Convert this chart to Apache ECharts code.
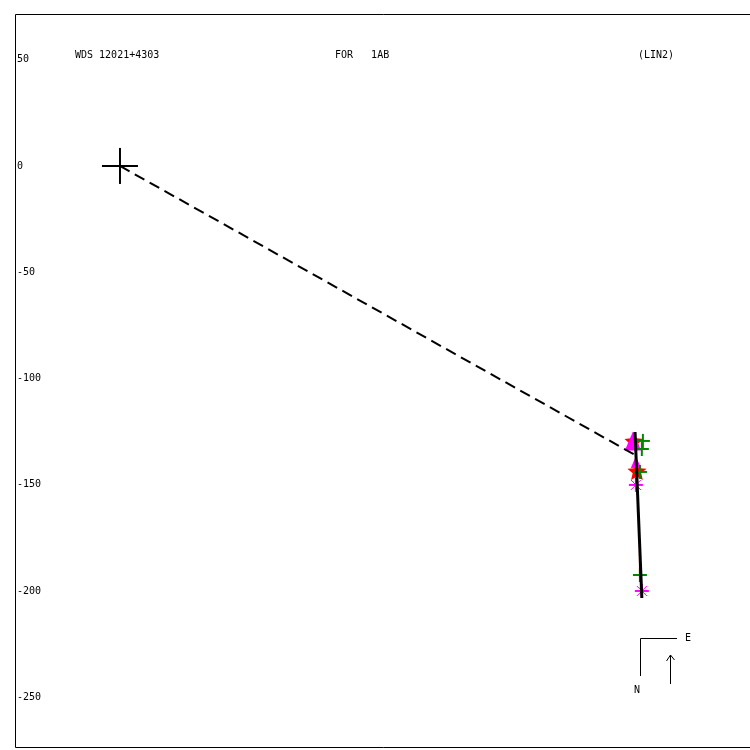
<!DOCTYPE html>
<html><head><meta charset="utf-8">
<script src="https://cdn.jsdelivr.net/npm/echarts@6/dist/echarts.min.js"></script>
<style>html,body{margin:0;padding:0;background:#fff}#c{width:750px;height:750px}</style>
</head><body><div id="c"></div>
<script>
const tickValues = [50, 0, -50, -100, -150, -200, -250];
const primary = [[0, 0]];
const dashedLine = [[0, 0], [243.3, -136.5]];
const orbitArc = [[242.4, -125.2], [245.6, -203.3]];
const residualLine = [[244.7, -176.0], [244.7, -193.9]];
const stars = [[241.9, -129.9], [243.3, -144.0]];
const triangles = [[241.4, -129.4, 19], [242.8, -139.3, 12]];
const pluses = [[246.1, -129.4], [245.6, -133.2], [244.7, -144.0], [244.7, -192.5]];
const asterisks = [[242.8, -150.1], [245.6, -200.0]];
const titleLeft = 'WDS 12021+4303';
const titleMid = 'FOR   1AB';
const titleRight = '(LIN2)';

const FONT = '10px "DejaVu Sans Mono"';
const chart = echarts.init(document.getElementById('c'), null, {renderer: 'canvas'});

function line(x1, y1, x2, y2, color, w) {
  return {type: 'line', shape: {x1, y1, x2, y2}, style: {stroke: color, lineWidth: w}};
}

const option = {
  animation: false,
  backgroundColor: '#fff',
  grid: {left: 15, top: 14, right: 0, bottom: 2},
  xAxis: {type: 'value', min: -49.4, max: 296.5, show: false},
  yAxis: {type: 'value', min: -273.9, max: 71.5, show: false},
  graphic: [
    {type: 'rect', shape: {x: 15.5, y: 14.5, width: 745, height: 733}, style: {fill: null, stroke: '#000', lineWidth: 1}, z: 100},
    {type: 'text', x: 75, y: 55, style: {text: titleLeft, font: FONT, fill: '#000', verticalAlign: 'middle'}},
    {type: 'text', x: 335, y: 55, style: {text: titleMid, font: FONT, fill: '#000', verticalAlign: 'middle'}},
    {type: 'text', x: 638, y: 55, style: {text: titleRight, font: FONT, fill: '#000', verticalAlign: 'middle'}},
    {type: 'line', shape: {x1: 640.5, y1: 638.5, x2: 640.5, y2: 676}, style: {stroke: '#000', lineWidth: 1}},
    {type: 'line', shape: {x1: 640.5, y1: 638.5, x2: 677, y2: 638.5}, style: {stroke: '#000', lineWidth: 1}},
    {type: 'text', x: 685, y: 638, style: {text: 'E', font: FONT, fill: '#000', verticalAlign: 'middle'}},
    {type: 'text', x: 634, y: 690, style: {text: 'N', font: FONT, fill: '#000', verticalAlign: 'middle'}},
    {type: 'line', shape: {x1: 670.5, y1: 684, x2: 670.5, y2: 655}, style: {stroke: '#000', lineWidth: 1}},
    {type: 'line', shape: {x1: 670.5, y1: 655, x2: 666.5, y2: 661}, style: {stroke: '#000', lineWidth: 1}},
    {type: 'line', shape: {x1: 670.5, y1: 655, x2: 674.5, y2: 660}, style: {stroke: '#000', lineWidth: 1}}
  ],
  series: [
    {
      type: 'custom', data: tickValues.map(v => [0, v]), silent: true,
      renderItem: (p, api) => {
        const pt = api.coord([0, api.value(1)]);
        return {type: 'text', x: 17, y: pt[1], style: {text: String(api.value(1)), font: FONT, fill: '#000', verticalAlign: 'middle'}};
      }
    },
    {type: 'line', data: dashedLine, symbol: 'none', silent: true, lineStyle: {color: '#000', width: 2, type: [11, 6]}},
    {type: 'line', data: residualLine, symbol: 'none', silent: true, lineStyle: {color: '#f00', width: 2}},
    {
      type: 'custom', data: stars, silent: true,
      renderItem: (p, api) => {
        const c = api.coord([api.value(0), api.value(1)]);
        const pts = [];
        for (let i = 0; i < 10; i++) {
          const r = i % 2 === 0 ? 10 : 4.5;
          const a = -Math.PI / 2 + i * Math.PI / 5;
          pts.push([c[0] + r * Math.cos(a), c[1] + r * Math.sin(a)]);
        }
        return {type: 'polygon', shape: {points: pts}, style: {fill: '#f00'}};
      }
    },
    {
      type: 'custom', data: triangles, silent: true,
      renderItem: (p, api) => {
        const c = api.coord([api.value(0), api.value(1)]);
        const s = api.value(2) / 2;
        return {type: 'polygon', shape: {points: [[c[0], c[1] - s], [c[0] + s * 0.85, c[1] + s], [c[0] - s * 0.85, c[1] + s]]}, style: {fill: '#f0f'}};
      }
    },
    {
      type: 'custom', data: pluses, silent: true,
      renderItem: (p, api) => {
        const c = api.coord([api.value(0), api.value(1)]);
        return {type: 'group', children: [line(c[0] - 7, c[1], c[0] + 7, c[1], '#080', 2), line(c[0], c[1] - 7, c[0], c[1] + 7, '#080', 2)]};
      }
    },
    {
      type: 'custom', data: asterisks, silent: true,
      renderItem: (p, api) => {
        const c = api.coord([api.value(0), api.value(1)]);
        const r = 7, d = 5;
        return {type: 'group', children: [
          line(c[0] - r, c[1], c[0] + r, c[1], '#f0f', 2),
          line(c[0], c[1] - r, c[0], c[1] + r, '#f0f', 2),
          line(c[0] - d, c[1] - d, c[0] + d, c[1] + d, '#f0f', 1),
          line(c[0] - d, c[1] + d, c[0] + d, c[1] - d, '#f0f', 1)
        ]};
      }
    },
    {type: 'line', data: orbitArc, symbol: 'none', silent: true, lineStyle: {color: '#000', width: 3}},
    {
      type: 'custom', data: primary, silent: true,
      renderItem: (p, api) => {
        const c = api.coord([api.value(0), api.value(1)]);
        return {type: 'group', children: [line(c[0] - 18, c[1], c[0] + 18, c[1], '#000', 2), line(c[0], c[1] - 18, c[0], c[1] + 18, '#000', 2)]};
      }
    }
  ]
};
chart.setOption(option);
</script></body></html>
